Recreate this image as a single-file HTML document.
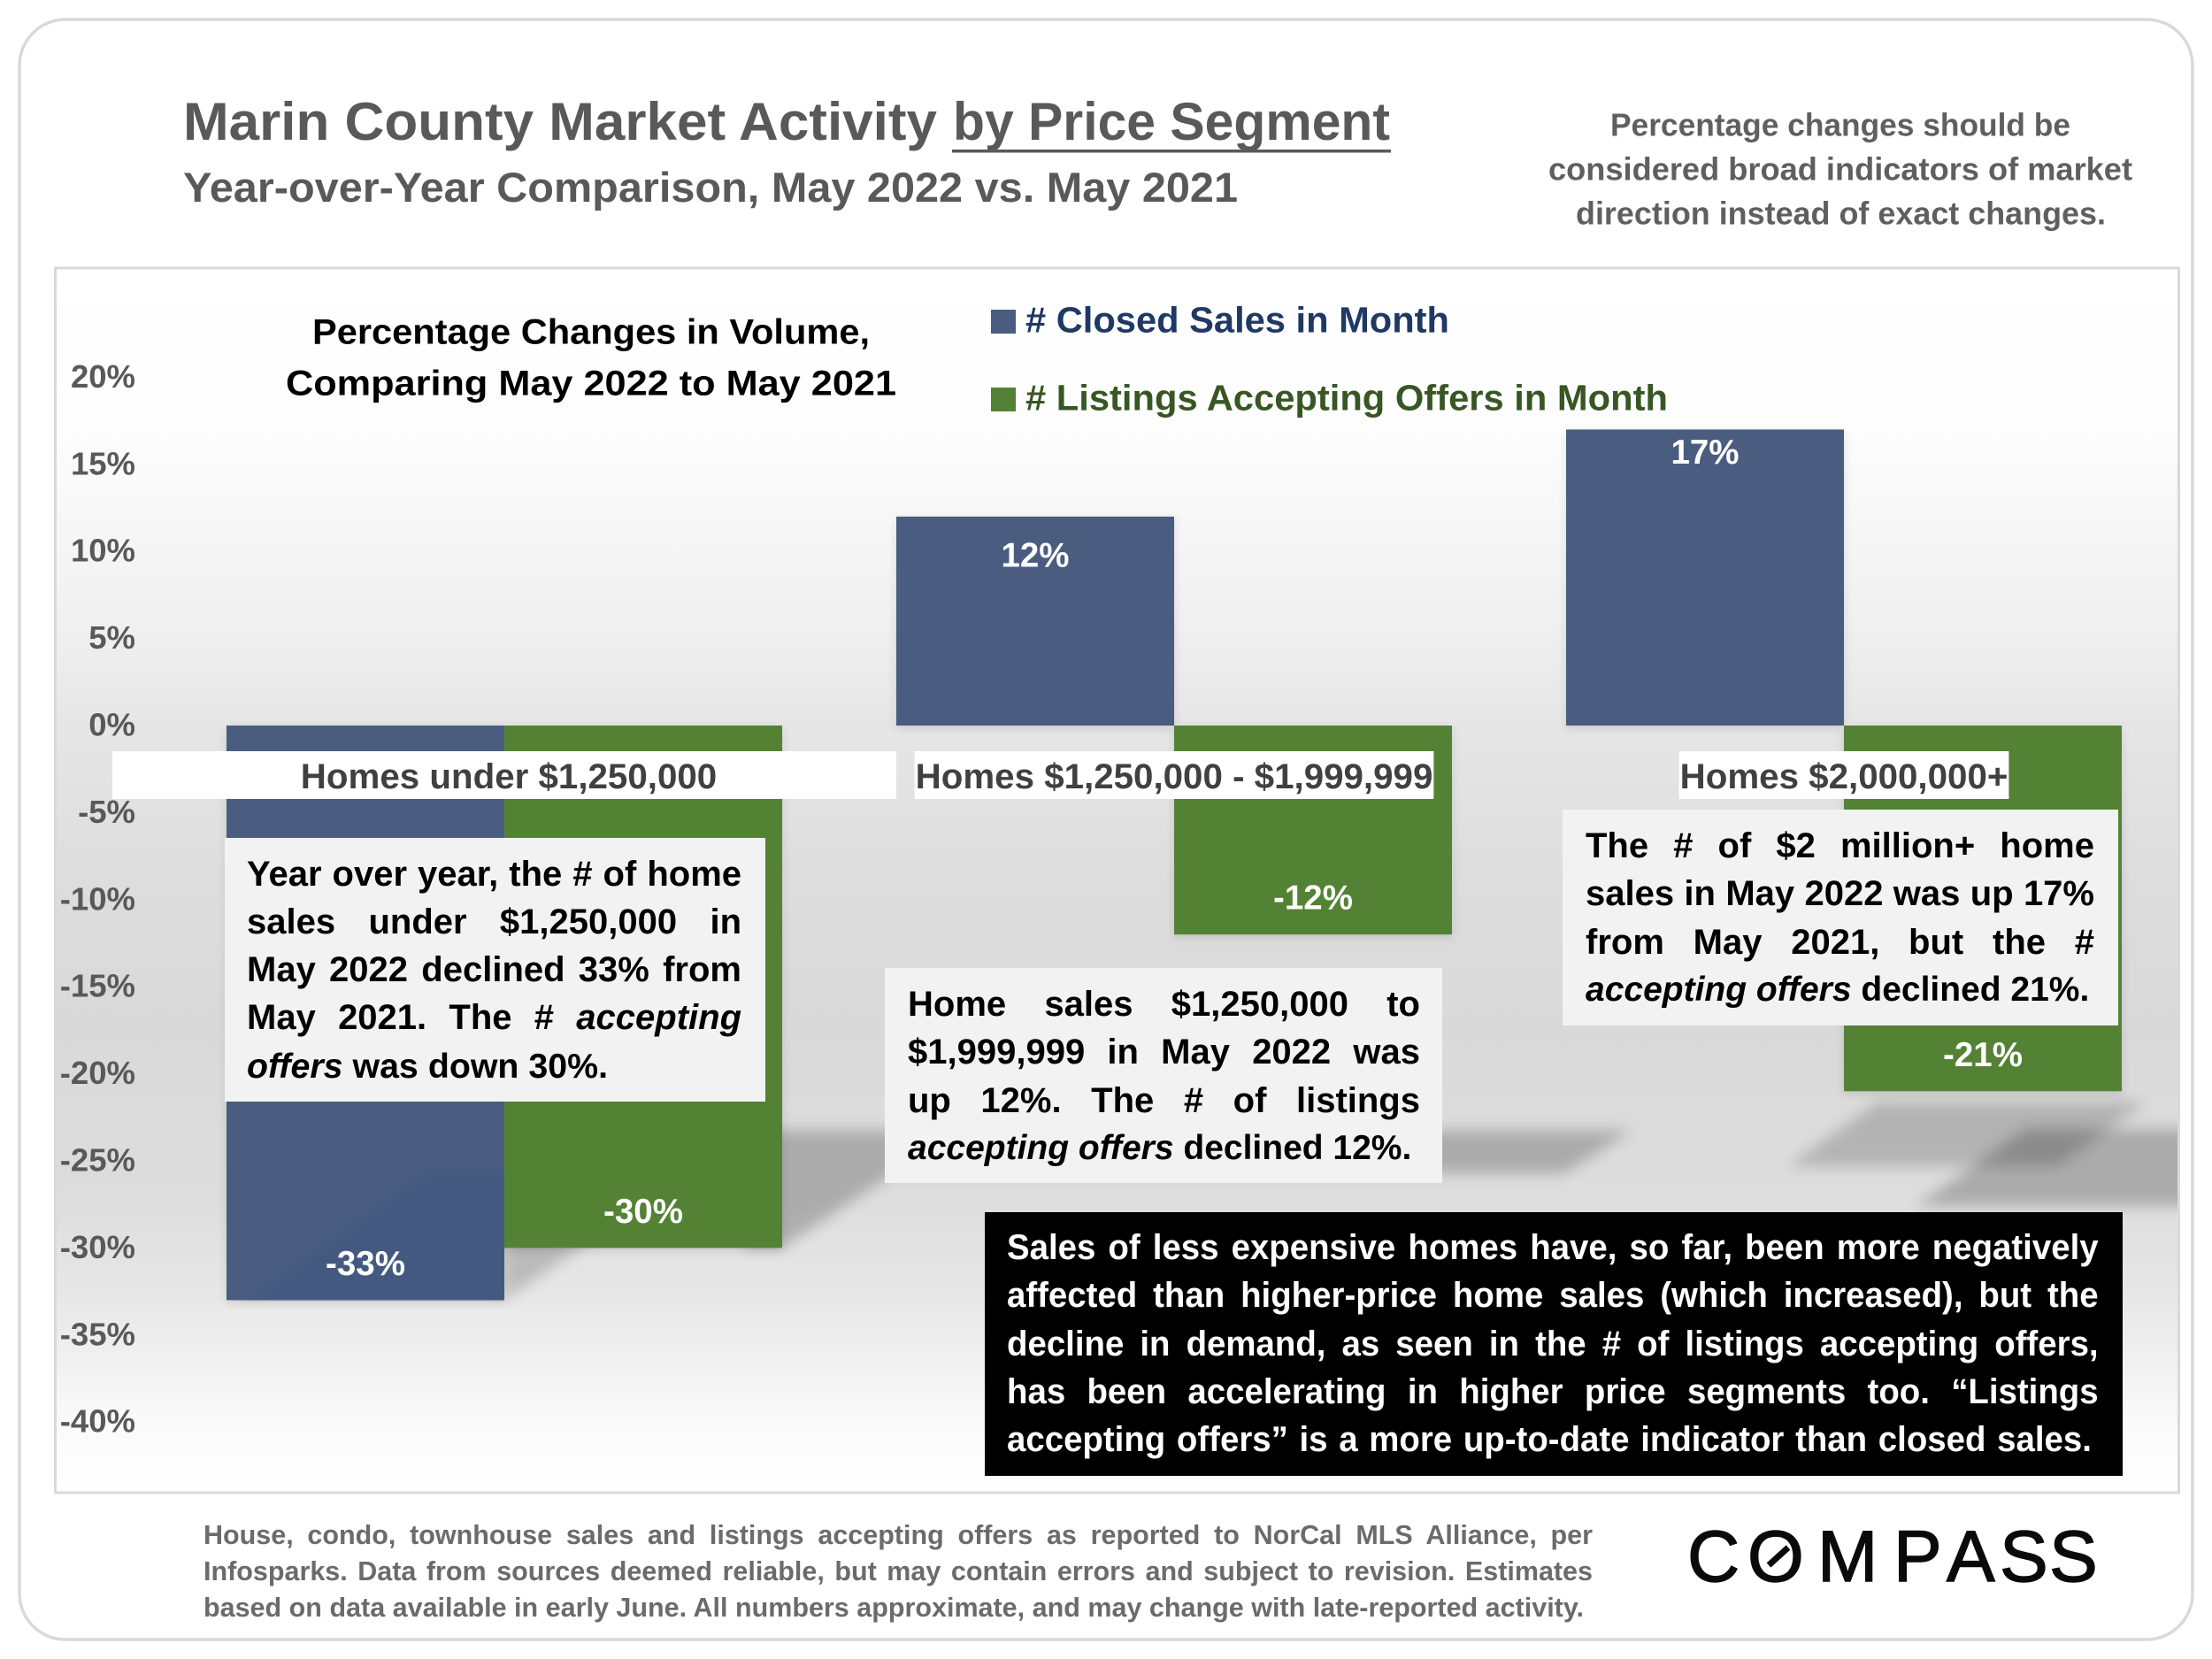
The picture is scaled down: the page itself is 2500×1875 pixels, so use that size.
<!DOCTYPE html>
<html lang="en">
<head>
<meta charset="utf-8">
<title>Marin County Market Activity by Price Segment</title>
<style>
html,body{margin:0;padding:0;background:#fff;}
#page{position:relative;width:2500px;height:1875px;overflow:hidden;background:#fff;font-family:"Liberation Sans",sans-serif;font-weight:bold;}
#chart{position:absolute;left:0;top:0;}
.box{position:absolute;background:#f2f2f2;}
.para{position:absolute;color:#000;font-size:40px;line-height:54.3px;}
.para div{white-space:nowrap;text-align:justify;text-align-last:justify;}
.dark{background:#000;}
.dark .para{color:#fff;transform:scaleX(.96);transform-origin:left top;}
.foot{position:absolute;left:230px;top:1715px;font-size:30.5px;line-height:41.2px;color:#6b6b6b;}
.foot div{white-space:nowrap;text-align:justify;text-align-last:justify;}
</style>
</head>
<body>
<div id="page">
<svg id="chart" width="2500" height="1875" viewBox="0 0 2500 1875" xmlns="http://www.w3.org/2000/svg" font-family="'Liberation Sans',sans-serif" font-weight="bold">
  <defs>
    <linearGradient id="plotBg" x1="0" y1="0" x2="0" y2="1">
      <stop offset="0" stop-color="#ffffff"/>
      <stop offset="0.13" stop-color="#fdfdfd"/>
      <stop offset="0.22" stop-color="#f6f6f6"/>
      <stop offset="0.29" stop-color="#f0f0f0"/>
      <stop offset="0.375" stop-color="#e6e6e6"/>
      <stop offset="0.5" stop-color="#dddddd"/>
      <stop offset="0.62" stop-color="#d9d9d9"/>
      <stop offset="0.76" stop-color="#dddddd"/>
      <stop offset="0.83" stop-color="#e6e6e6"/>
      <stop offset="0.88" stop-color="#eeeeee"/>
      <stop offset="0.94" stop-color="#fafafa"/>
      <stop offset="1" stop-color="#ffffff"/>
    </linearGradient>
    <filter id="blur8" x="-20%" y="-40%" width="140%" height="180%"><feGaussianBlur stdDeviation="8"/></filter>
    <clipPath id="plotClip"><rect x="64" y="304" width="2397" height="1381"/></clipPath>
    <clipPath id="blueClip"><rect x="256" y="1240" width="314" height="231"/></clipPath>
  </defs>

  <rect x="22" y="22" width="2456" height="1831" rx="52" ry="52" fill="#fff" stroke="#d9d9d9" stroke-width="3.5"/>
  <rect x="62.5" y="303" width="2400" height="1384" fill="url(#plotBg)" stroke="#d9d9d9" stroke-width="3"/>

  <text x="207" y="158" font-size="60" fill="#595959" textLength="852" lengthAdjust="spacingAndGlyphs">Marin County Market Activity</text>
  <text x="1077" y="158" font-size="60" fill="#595959" textLength="494" lengthAdjust="spacingAndGlyphs">by Price Segment</text>
  <rect x="1076" y="169" width="496" height="3.5" fill="#595959"/>
  <text x="207" y="228" font-size="47" fill="#595959" textLength="1192" lengthAdjust="spacingAndGlyphs">Year-over-Year Comparison, May 2022 vs. May 2021</text>

  <g fill="#5f5f5f" font-size="36">
    <text x="1820" y="153.5" textLength="520" lengthAdjust="spacingAndGlyphs">Percentage changes should be</text>
    <text x="1750" y="203.5" textLength="660" lengthAdjust="spacingAndGlyphs">considered broad indicators of market</text>
    <text x="1781" y="253.5" textLength="599" lengthAdjust="spacingAndGlyphs">direction instead of exact changes.</text>
  </g>

  <g fill="#000" font-size="40">
    <text x="353" y="388.5" textLength="630" lengthAdjust="spacingAndGlyphs">Percentage Changes in Volume,</text>
    <text x="323" y="446.5" textLength="690" lengthAdjust="spacingAndGlyphs">Comparing May 2022 to May 2021</text>
  </g>

  <g>
    <rect x="1120" y="350" width="28" height="27" fill="#4a5d80"/>
    <text x="1159" y="375.5" font-size="41" fill="#1f3864" textLength="479" lengthAdjust="spacingAndGlyphs"># Closed Sales in Month</text>
    <rect x="1120" y="438" width="28" height="27" fill="#548235"/>
    <text x="1159" y="463.5" font-size="41" fill="#375623" textLength="726" lengthAdjust="spacingAndGlyphs"># Listings Accepting Offers in Month</text>
  </g>

  <g clip-path="url(#plotClip)">
    <polygon points="884,1278 1844,1278 1768,1326 1010,1326 884,1410 840,1410 840,1278" fill="#000" opacity=".22" filter="url(#blur8)"/>
    <polygon points="570,1390 683,1390 570,1470" fill="#000" opacity=".18" filter="url(#blur8)"/>
    <polygon points="2122,1246 2425,1246 2325,1318 2021,1318" fill="#000" opacity=".18" filter="url(#blur8)"/>
    <polygon points="2290,1276 2480,1276 2480,1363 2165,1363" fill="#000" opacity=".22" filter="url(#blur8)"/>
  </g>

  <g id="yAxis"></g>
  <g id="bars" style="filter:drop-shadow(0 3px 5px rgba(0,0,0,.12))"></g>
  <g clip-path="url(#blueClip)">
    <polygon points="480,1325 600,1325 600,1490 250,1490" fill="#1f3f78" opacity=".12" filter="url(#blur8)"/>
  </g>
  <rect x="127" y="849" width="886" height="54" fill="#fff"/>
  <g id="catLabels"></g>
  <g id="valueLabels"></g>

  <g>
    <text y="1787" x="1907 1975 2054 2140 2200 2260 2316" font-size="82" font-weight="normal" fill="#0a0a0a" stroke="#0a0a0a" stroke-width="1.4">COMPASS</text>
    <line x1="1999" y1="1769" x2="2021" y2="1749" stroke="#0a0a0a" stroke-width="7"/>
  </g>
</svg>

<div class="box" style="left:254px;top:947px;width:611px;height:298px"></div>
<div class="para" style="left:279px;top:960.5px;width:559px">
  <div>Year over year, the # of home</div>
  <div>sales under $1,250,000 in</div>
  <div>May 2022 declined 33% from</div>
  <div>May 2021. The # <i>accepting</i></div>
  <div style="width:408px;font-size:39.3px"><i>offers</i> was down 30%.</div>
</div>

<div class="box" style="left:1000px;top:1094px;width:630px;height:243px"></div>
<div class="para" style="left:1026px;top:1108px;width:579px">
  <div>Home sales $1,250,000 to</div>
  <div>$1,999,999 in May 2022 was</div>
  <div>up 12%. The # of listings</div>
  <div style="width:568px;font-size:39px"><i>accepting offers</i> declined 12%.</div>
</div>

<div class="box" style="left:1766px;top:915px;width:628px;height:244px"></div>
<div class="para" style="left:1792px;top:929px;width:575px">
  <div>The # of $2 million+ home</div>
  <div>sales in May 2022 was up 17%</div>
  <div>from May 2021, but the #</div>
  <div style="width:568px;font-size:39px"><i>accepting offers</i> declined 21%.</div>
</div>

<div class="box dark" style="left:1113px;top:1370px;width:1286px;height:298px">
  <div class="para" style="left:25px;top:13px;width:1285px">
    <div>Sales of less expensive homes have, so far, been more negatively</div>
    <div>affected than higher-price home sales (which increased), but the</div>
    <div>decline in demand, as seen in the # of listings accepting offers,</div>
    <div>has been accelerating in higher price segments too. “Listings</div>
    <div style="width:1277px">accepting offers” is a more up-to-date indicator than closed sales.</div>
  </div>
</div>

<div class="foot" style="width:1570px">
  <div>House, condo, townhouse sales and listings accepting offers as reported to NorCal MLS Alliance, per</div>
  <div>Infosparks. Data from sources deemed reliable, but may contain errors and subject to revision. Estimates</div>
  <div style="width:1560px">based on data available in early June. All numbers approximate, and may change with late-reported activity.</div>
</div>
</div>

<script>
const categories = ["Homes under $1,250,000", "Homes $1,250,000 - $1,999,999", "Homes $2,000,000+"];
const closedSales = [-33, 12, 17];
const listingsAccepting = [-30, -12, -21];
const tickValues = [20, 15, 10, 5, 0, -5, -10, -15, -20, -25, -30, -35, -40];

const NS = "http://www.w3.org/2000/svg";
const yAxisLayer = document.getElementById("yAxis");
const barLayer = document.getElementById("bars");
const catLayer = document.getElementById("catLabels");
const valueLayer = document.getElementById("valueLabels");

const BAR_W = 314;
function yScale(v) { return 820 - v * 19.68; }
function groupCenter(i) { return 570 + 757 * i; }

tickValues.forEach(function (t) {
  const el = document.createElementNS(NS, "text");
  
  
  el.setAttribute("x", 153);
  el.setAttribute("y", yScale(t) + 11.5);
  el.setAttribute("text-anchor", "end");
  el.setAttribute("font-size", 36.5);
  el.setAttribute("fill", "#595959");
  el.textContent = t + "%";
  yAxisLayer.appendChild(el);
});

function drawBar(v, x, fill, name) {
  const r = document.createElementNS(NS, "rect");
  
  
  r.setAttribute("x", x);
  r.setAttribute("y", Math.min(yScale(v), yScale(0)));
  r.setAttribute("width", BAR_W);
  r.setAttribute("height", Math.abs(yScale(v) - yScale(0)));
  r.setAttribute("fill", fill);
  barLayer.appendChild(r);
}

function labelCenter(v) {
  if (v < 0) return yScale(v) - 41;
  return yScale(v) + (v > 15 ? 26 : 44);
}

function drawValue(v, cx) {
  const t = document.createElementNS(NS, "text");
  
  
  t.setAttribute("x", cx);
  t.setAttribute("y", labelCenter(v) + 12.5);
  t.setAttribute("text-anchor", "middle");
  t.setAttribute("font-size", 38.5);
  t.setAttribute("fill", "#ffffff");
  t.textContent = v + "%";
  valueLayer.appendChild(t);
}

categories.forEach(function (c, i) {
  const cx = groupCenter(i);
  drawBar(closedSales[i], cx - BAR_W, "#4a5d80", "bar-closed-sales");
  drawBar(listingsAccepting[i], cx, "#548235", "bar-listings-accepting");
  drawValue(closedSales[i], cx - BAR_W / 2);
  drawValue(listingsAccepting[i], cx + BAR_W / 2);

  const label = document.createElementNS(NS, "text");
  
  
  label.setAttribute("x", cx + (i === 0 ? 5 : 0));
  label.setAttribute("y", yScale(0) + 71);
  label.setAttribute("text-anchor", "middle");
  label.setAttribute("font-size", 40.3);
  label.setAttribute("fill", "#404040");
  label.textContent = c;
  catLayer.appendChild(label);

  const w = label.getComputedTextLength();
  const bg = document.createElementNS(NS, "rect");
  
  
  bg.setAttribute("x", cx - w / 2 - 1);
  bg.setAttribute("y", yScale(0) + 29);
  bg.setAttribute("width", w + 2);
  bg.setAttribute("height", 54);
  bg.setAttribute("fill", "#ffffff");
  catLayer.insertBefore(bg, label);
});
</script>
</body>
</html>
